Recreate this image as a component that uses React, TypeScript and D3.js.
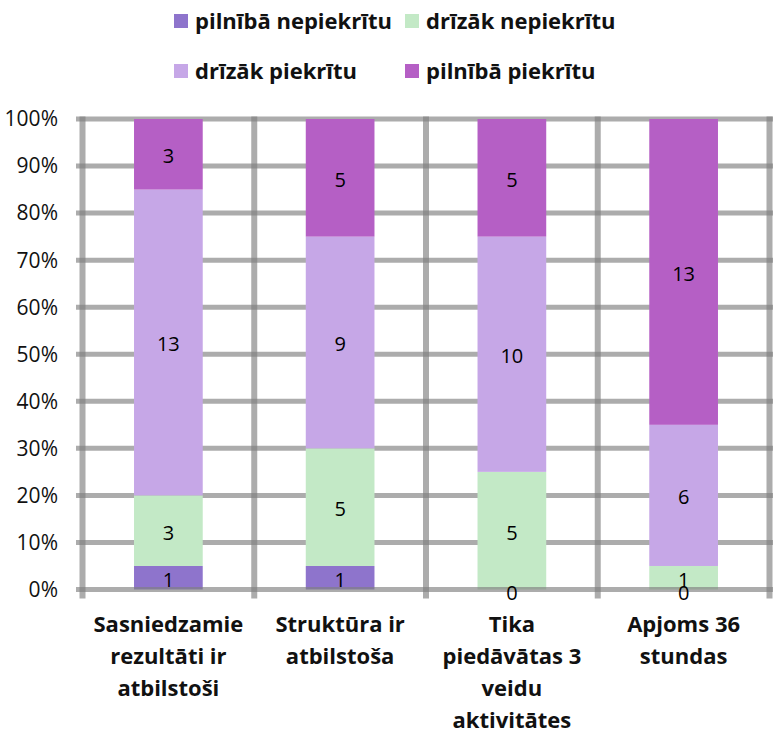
import * as d3 from 'd3';

const categories = [
  ['Sasniedzamie', 'rezultāti ir', 'atbilstoši'],
  ['Struktūra ir', 'atbilstoša'],
  ['Tika', 'piedāvātas 3', 'veidu', 'aktivitātes'],
  ['Apjoms 36', 'stundas'],
];
const seriesNames = ['pilnībā nepiekrītu', 'drīzāk nepiekrītu', 'drīzāk piekrītu', 'pilnībā piekrītu'];
const seriesColors = ['#8e74cc', '#c3e9c6', '#c6a7e7', '#b55fc5'];
const pilnibaNepiekritu = [1, 1, 0, 0];
const drizakNepiekritu = [3, 5, 5, 1];
const drizakPiekritu = [13, 9, 10, 6];
const pilnibaPiekritu = [3, 5, 5, 13];
const yTicks = [0, 10, 20, 30, 40, 50, 60, 70, 80, 90, 100];

const W = 773;
const H = 732;
const left = 82.5;
const right = 769.5;
const top = 119;
const bottom = 589.5;
const font = '"Open Sans", "Noto Sans", sans-serif';
const gridColor = 'rgba(128,128,128,0.65)';

export default function App() {
  const series = [pilnibaNepiekritu, drizakNepiekritu, drizakPiekritu, pilnibaPiekritu];
  const x = d3.scaleBand<number>().domain(categories.map((_, i) => i)).range([left, right]).padding(0);
  const y = d3.scaleLinear().domain([0, 100]).range([bottom, top]);
  const barW = x.bandwidth() * 0.4;

  // stacked shares per category
  const stacks = categories.map((_, ci) => {
    const total = d3.sum(series, (s) => s[ci]);
    let acc = 0;
    return series.map((s, si) => {
      const v = s[ci];
      const y0 = (acc / total) * 100;
      acc += v;
      const y1 = (acc / total) * 100;
      return { si, v, y0, y1 };
    });
  });

  const legendRows = [
    [0, 1],
    [2, 3],
  ];
  const legendX = [174, 405];
  const legendY = [21, 71];

  return (
    <svg width={W} height={H} style={{ position: 'absolute', left: 0, top: 0, background: '#fff' }}>
      {/* legend */}
      {legendRows.map((row, ri) =>
        row.map((si, ci) => (
          <g key={si} transform={`translate(${legendX[ci]},${legendY[ri]})`}>
            <rect x={0} y={-7} width={14} height={14} fill={seriesColors[si]} />
            <text x={21} y={0} dy="0.35em" fontFamily={font} fontWeight="bold" fontSize={22} fill="#111">
              {seriesNames[si]}
            </text>
          </g>
        ))
      )}

      {/* horizontal grid */}
      {yTicks.filter((t) => t > 0).map((t) => (
        <line key={t} x1={left - 6.5} x2={W} y1={y(t)} y2={y(t)} stroke={gridColor} strokeWidth={5} />
      ))}
      {/* vertical grid */}
      {d3.range(categories.length + 1).map((i) => {
        const xx = i < categories.length ? x(i)! : right;
        return <line key={i} x1={xx} x2={xx} y1={top - 2.5} y2={bottom + 9} stroke={gridColor} strokeWidth={6} />;
      })}

      {/* bars */}
      {stacks.map((st, ci) =>
        st.map((d) =>
          d.v > 0 ? (
            <rect
              key={`${ci}-${d.si}`}
              x={x(ci)! + x.bandwidth() / 2 - barW / 2}
              y={y(d.y1)}
              width={barW}
              height={y(d.y0) - y(d.y1)}
              fill={seriesColors[d.si]}
            />
          ) : null
        )
      )}

      {/* x axis line drawn over the bars */}
      <line x1={left - 6.5} x2={W} y1={y(0)} y2={y(0)} stroke={gridColor} strokeWidth={5} />

      {/* data labels */}
      {stacks.map((st, ci) =>
        st.map((d) => (
          <text
            key={`l${ci}-${d.si}`}
            x={x(ci)! + x.bandwidth() / 2}
            y={d.v > 0 ? (y(d.y0) + y(d.y1)) / 2 + 2 : y(d.y0) + 3}
            dy="0.35em"
            textAnchor="middle"
            fontFamily={font}
            fontSize={20}
            fill="#000"
          >
            {d.v}
          </text>
        ))
      )}

      {/* y tick labels */}
      {yTicks.map((t) => (
        <text key={t} x={58} y={y(t)} dy="0.35em" textAnchor="end" fontFamily={font} fontSize={21} fill="#111">
          {t}%
        </text>
      ))}

      {/* category labels */}
      {categories.map((lines, ci) => (
        <text
          key={ci}
          x={x(ci)! + x.bandwidth() / 2}
          textAnchor="middle"
          fontFamily={font}
          fontWeight="bold"
          fontSize={22}
          fill="#111"
        >
          {lines.map((ln, li) => (
            <tspan key={li} x={x(ci)! + x.bandwidth() / 2} y={632 + li * 32}>
              {ln}
            </tspan>
          ))}
        </text>
      ))}
    </svg>
  );
}
